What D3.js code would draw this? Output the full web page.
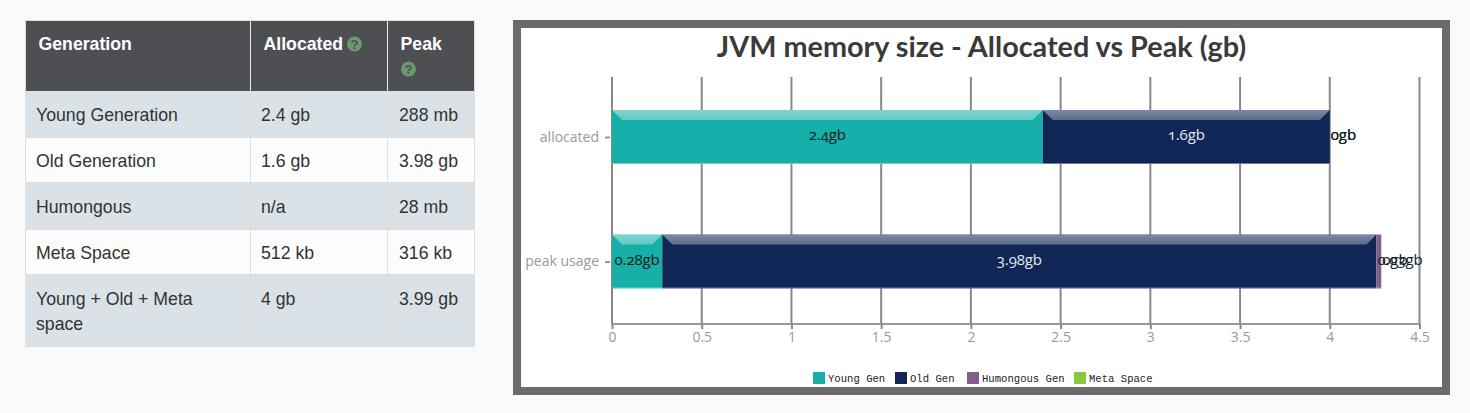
<!DOCTYPE html>
<html><head><meta charset="utf-8">
<script src="https://cdn.jsdelivr.net/npm/d3@7"></script>
<style>
html,body{margin:0;padding:0;background:#fafafa;overflow:hidden}
svg{display:block}
.cell{font-family:"Liberation Sans",Arial,sans-serif;font-size:17.7px;fill:#333}
.head{font-family:"Liberation Sans",Arial,sans-serif;font-size:17.7px;font-weight:700;fill:#fff}
.val{font-family:"Open Sans",sans-serif;font-size:15px;font-weight:500;font-feature-settings:"onum" 1;letter-spacing:-.1px}
.tick text{font-family:"Open Sans",sans-serif;font-size:14px;fill:#999}
</style></head><body>
<svg id="c" width="1470" height="413"></svg>
<script>
// ---- table content ----
const tableHeaders = ["Generation", "Allocated", "Peak"];
const tableRows = [
  [["Young Generation"], ["2.4 gb"], ["288 mb"]],
  [["Old Generation"], ["1.6 gb"], ["3.98 gb"]],
  [["Humongous"], ["n/a"], ["28 mb"]],
  [["Meta Space"], ["512 kb"], ["316 kb"]],
  [["Young + Old + Meta", "space"], ["4 gb"], ["3.99 gb"]]
];
// ---- chart content ----
const chartTitle = "JVM memory size - Allocated vs Peak (gb)";
const categories = ["allocated", "peak usage"];
const seriesNames = ["Young Gen", "Old Gen", "Humongous Gen", "Meta Space"];
const seriesColors = ["#17b0a8", "#102656", "#835e8b", "#8cc63f"];
const youngGen = [2.4, 0.28];
const oldGen = [1.6, 3.98];
const humongousGen = [0, 0.027];
const metaSpace = [0.0005, 0.0003];
const xTicks = [0, 0.5, 1, 1.5, 2, 2.5, 3, 3.5, 4, 4.5];

const svg = d3.select("#c");
const defs = svg.append("defs");
const bevel = defs.append("linearGradient").attr("id","bevel").attr("x1",0).attr("x2",0).attr("y1",0).attr("y2",1);
bevel.append("stop").attr("offset",0).attr("stop-color","#fff").attr("stop-opacity",.46);
bevel.append("stop").attr("offset",1).attr("stop-color","#fff").attr("stop-opacity",.32);

// ---------- TABLE ----------
const colX = d3.scaleOrdinal().domain([0,1,2]).range([25,250,387]);
const cellInset = [11,11,12];
const rowEdges = [91,138,183,230,275,347];
const rowBase = [121,167,213,259,305];
const t = svg.append("g");
t.append("rect").attr("x",25.5).attr("y",20.5).attr("width",449).attr("height",326).attr("fill","#fcfcfc").attr("stroke","#ddd");
t.append("rect").attr("x",26).attr("y",21).attr("width",448).attr("height",70).attr("fill","#4d4f53");
tableRows.forEach((r,i)=>{
  const y0=rowEdges[i], y1=rowEdges[i+1];
  if(i%2===0) t.append("rect").attr("x",25).attr("y",y0).attr("width",450).attr("height",y1-y0).attr("fill","#dae2e7");
  t.append("line").attr("x1",25).attr("x2",475).attr("y1",y1-.5).attr("y2",y1-.5).attr("stroke","#ddd");
  r.forEach((cell,j)=>{
    cell.forEach((s,k)=>t.append("text").attr("class","cell").attr("x",colX(j)+cellInset[j]).attr("y",rowBase[i]+k*25).text(s));
  });
});
[1,2].forEach(j=>{
  t.append("line").attr("x1",colX(j)+.5).attr("x2",colX(j)+.5).attr("y1",21).attr("y2",91).attr("stroke","#eee");
  t.append("line").attr("x1",colX(j)+.5).attr("x2",colX(j)+.5).attr("y1",91).attr("y2",347).attr("stroke","#ddd");
});
tableHeaders.forEach((h,j)=>t.append("text").attr("class","head").attr("x",colX(j)+13.5).attr("y",50).text(h));
function help(cx,cy){
  t.append("circle").attr("cx",cx).attr("cy",cy).attr("r",7.5).attr("fill","#6a9a6c");
  t.append("text").attr("x",cx).attr("y",cy+4.5).attr("text-anchor","middle").attr("font-family","Liberation Sans").attr("font-weight",700).attr("font-size",13).attr("fill","#4d4f53").text("?");
}
help(354.5,44); help(408.5,69);

// ---------- CHART ----------
svg.append("rect").attr("x",517).attr("y",24).attr("width",929).attr("height",367).attr("fill","#fff").attr("stroke","#6b6b6b").attr("stroke-width",8);
svg.append("text").attr("x",981.5).attr("y",57).attr("text-anchor","middle")
  .attr("font-family","Lato,'Open Sans',sans-serif").attr("font-weight",700).attr("font-size",28.8).attr("fill","#3a3a3a").text(chartTitle);

const x = d3.scaleLinear().domain([0,4.5]).range([612,1419.5]);
const y = d3.scalePoint().domain(categories).range([137,261.5]);
const barH = 54;
const gridTop = 77, gridBot = 324;

const g = svg.append("g");
g.selectAll(".grid").data(xTicks).join("line").attr("class","grid")
  .attr("x1",d=>x(d)).attr("x2",d=>x(d)).attr("y1",gridTop).attr("y2",gridBot)
  .attr("stroke","#888").attr("stroke-width",2);

const xAxis = d3.axisBottom(x).tickValues(xTicks).tickFormat(d3.format("")).tickSize(5).tickPadding(3);
const ax = svg.append("g").attr("class","tick").attr("transform",`translate(0,${gridBot})`).call(xAxis);
ax.attr("font-size",null).attr("font-family",null);
ax.select(".domain").attr("stroke","#999").attr("stroke-width",2).attr("d",`M${x(0)},0H${x(4.5)}`);
ax.selectAll(".tick line").attr("stroke","#888").attr("stroke-width",2);

const yAxis = d3.axisLeft(y).tickSize(5).tickPadding(6);
const ay = svg.append("g").attr("transform",`translate(${x(0)-2},0)`).call(yAxis);
ay.select(".domain").remove();
ay.selectAll("line").attr("stroke","#999").attr("stroke-width",2);
ay.selectAll("text").style("font-family","Open Sans").style("font-size","14px").style("fill","#999");

const series = [youngGen, oldGen, humongousGen, metaSpace];
const fmt = v => (+v.toFixed(2)) + "gb";
categories.forEach((cat,ci)=>{
  let acc = 0;
  series.forEach((vals,si)=>{
    const v = vals[ci], x0 = x(acc), x1 = x(acc+v), top = y(cat)-barH/2, w = x1-x0;
    acc += v;
    if(w>0.5){
      g.append("rect").attr("x",x0).attr("y",top).attr("width",w).attr("height",barH).attr("fill",seriesColors[si]);
      g.append("rect").attr("x",x0).attr("y",top+barH-1).attr("width",w).attr("height",1).attr("fill","#fff").attr("fill-opacity",.4);
      if(w>25){
        const b=10;
        g.append("path").attr("d",d3.line()([[x0,top],[x1,top],[x1-b,top+b],[x0+b,top+b]])+"Z").attr("fill","url(#bevel)");
      }
    }
    const inside = w>40;
    g.append("text").attr("class","val")
      .attr("x", inside ? (x0+x1)/2 : x0+1)
      .attr("y", y(cat)+3)
      .attr("text-anchor", inside ? "middle":"start")
      .attr("fill", si===1 ? "#e6e9ee" : "#10201f")
      .text(fmt(v));
  });
});

// legend
const legX = [813,895,967,1074];
const leg = svg.append("g");
seriesNames.forEach((n,i)=>{
  leg.append("rect").attr("x",legX[i]).attr("y",372).attr("width",12).attr("height",12).attr("fill",seriesColors[i]);
  leg.append("text").attr("x",legX[i]+15).attr("y",382).attr("font-family","Liberation Mono").attr("font-size",10.6).attr("fill","#222").text(n);
});
</script></body></html>
